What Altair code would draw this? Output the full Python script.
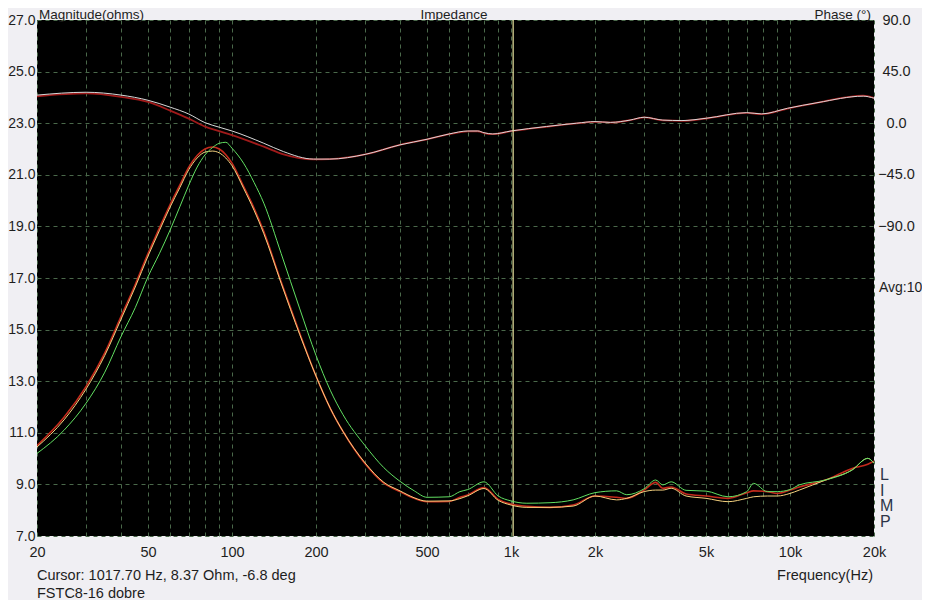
import altair as alt
import pandas as pd

# ---------------- data ----------------
MAG_FREQ = [20, 25, 30, 35, 40, 45, 50, 55, 60, 65,
            70, 75, 80, 85, 90, 95, 100, 110, 120, 130,
            150, 175, 200, 225, 250, 300, 350, 400, 450, 500,
            600, 656, 700, 800, 900, 1000, 1140, 1380, 1670, 2000,
            2390, 2600, 3000, 3300, 3500, 3750, 4240, 5000, 6000, 7000,
            7400, 8300, 9000, 10000, 10800, 13400, 16700, 19000, 20000]

MAG_RED = [10.5, 11.6, 12.8, 14.1, 15.5, 16.75, 17.95, 18.95, 19.85, 20.6,
           21.3, 21.75, 22.0, 22.08, 22.0, 21.78, 21.45, 20.55, 19.7, 18.8,
           16.85, 14.85, 13.2, 11.95, 11.05, 9.8, 9.05, 8.72, 8.46, 8.33,
           8.34, 8.5, 8.59, 8.88, 8.42, 8.24, 8.15, 8.11, 8.2, 8.55,
           8.5, 8.46, 8.78, 9.08, 8.85, 8.9, 8.63, 8.55, 8.46, 8.68,
           8.75, 8.72, 8.65, 8.78, 8.9, 9.17, 9.62, 9.78, 9.9]

MAG_YELLOW = [10.45, 11.5, 12.7, 14.0, 15.4, 16.65, 17.85, 18.85, 19.75, 20.5,
              21.2, 21.65, 21.88, 21.92, 21.85, 21.65, 21.35, 20.48, 19.62, 18.72,
              16.8, 14.8, 13.2, 11.95, 11.05, 9.83, 9.08, 8.75, 8.48, 8.35,
              8.36, 8.45, 8.56, 8.84, 8.38, 8.2, 8.11, 8.11, 8.16, 8.55,
              8.4, 8.46, 8.72, 8.78, 8.78, 8.85, 8.55, 8.46, 8.33, 8.46,
              8.52, 8.55, 8.55, 8.65, 8.78, 9.17, 9.56, 10.01, 9.82]

MAG_GREEN = [10.2, 11.1, 12.15, 13.35, 14.73, 15.85, 17.05, 17.96, 18.86, 19.76,
             20.6, 21.3, 21.77, 22.05, 22.22, 22.26, 22.03, 21.45, 20.7, 19.9,
             17.95, 15.8, 14.0, 12.65, 11.7, 10.5, 9.65, 9.12, 8.75, 8.5,
             8.52, 8.72, 8.8, 9.1, 8.55, 8.36, 8.27, 8.29, 8.4, 8.68,
             8.75, 8.6, 8.83, 9.17, 8.98, 9.1, 8.77, 8.74, 8.52, 8.72,
             9.04, 8.72, 8.72, 8.8, 8.98, 9.17, 9.56, 10.01, 9.82]

PHASE_FREQ = [20, 30, 40, 50, 60, 70, 80, 90, 100, 130,
              153, 196, 224, 300, 400, 500, 600, 700, 760, 800,
              860, 1000, 1340, 1720, 2000, 2270, 2670, 3000, 3500, 4100,
              5000, 7000, 7900, 9800, 12600, 18300, 20000]

PHASE_WHITE = [24.5, 27.0, 24.5, 20.0, 14.0, 8.0, 0.5, -3.5, -6.8, -17.5,
               -24.8, -31.3, -31.3, -27.2, -18.9, -14.0, -9.4, -6.8, -6.8, -8.3,
               -9.4, -6.8, -2.9, 0.0, 1.4, 0.7, 2.7, 5.2, 2.7, 2.3,
               4.3, 9.2, 8.1, 13.0, 18.0, 23.6, 21.8]

PHASE_RED = [23.5, 26.0, 23.0, 18.5, 11.0, 4.0, -3.0, -7.0, -10.4, -20.5,
             -27.2, -31.5, -31.3, -27.2, -18.9, -14.2, -9.6, -7.2, -7.0, -8.6,
             -9.6, -7.0, -3.1, -0.2, 1.2, 0.5, 2.6, 5.0, 2.5, 2.1,
             4.1, 9.0, 7.9, 12.8, 18.0, 24.0, 22.0]

CURSOR_FREQ = [1017.7]

X_GRID_VALUES = [20, 30, 40, 50, 60, 70, 80, 90,
                 100, 200, 300, 400, 500, 600, 700, 800, 900,
                 1000, 2000, 3000, 4000, 5000, 6000, 7000, 8000, 9000,
                 10000, 20000]
X_LABEL_VALUES = [20, 50, 100, 200, 500, 1000, 2000, 5000, 10000, 20000]
X_LABEL_TEXT = ["20", "50", "100", "200", "500", "1k", "2k", "5k", "10k", "20k"]
MAG_TICKS = [7, 9, 11, 13, 15, 17, 19, 21, 23, 25, 27]
PHASE_TICKS = [90, 45, 0, -45, -90]

TITLE_LEFT = "Magnitude(ohms)"
TITLE_CENTER = "Impedance"
TITLE_RIGHT = "Phase (°)"
AVG_TEXT = "Avg:10"
CURSOR_TEXT = "Cursor: 1017.70 Hz, 8.37 Ohm, -6.8 deg"
NAME_TEXT = "FSTC8-16 dobre"
FREQ_TITLE = "Frequency(Hz)"
SIDE_LETTERS = ["L", "I", "M", "P"]

# ---------------- styling ----------------
FONT = "Liberation Sans"
BG = "#f0eff3"
GRID = "#4a684a"
TEXT = "#1e1e1e"
FS = 14.5
W, H = 837, 516


def df(freqs, vals):
    return pd.DataFrame({"f": freqs, "v": vals})


label_expr = "".join(
    f"datum.value == {v} ? '{t}' : " for v, t in zip(X_LABEL_VALUES, X_LABEL_TEXT)
) + "''"

x_axis = alt.Axis(values=X_GRID_VALUES, labelExpr=label_expr, title=None,
                  grid=True, gridColor=GRID, gridDash=[4, 4], gridWidth=1,
                  domain=False, ticks=False, labelPadding=9,
                  labelFlush=False, labelOverlap=False, labelFontSize=FS)
x_scale = alt.Scale(type="log", domain=[20, 20000], nice=False)


def x_enc():
    return alt.X("f:Q", scale=x_scale, axis=x_axis)


mag_y = alt.Y("v:Q", scale=alt.Scale(domain=[7, 27], nice=False, zero=False),
              axis=alt.Axis(values=MAG_TICKS, format=".1f", orient="left", title=None,
                            grid=True, gridColor=GRID, gridDash=[4, 4], gridWidth=1,
                            domain=False, ticks=False, labelPadding=2,
                            labelFlush=False, labelFontSize=14))
phase_y = alt.Y("v:Q", scale=alt.Scale(domain=[-360, 90], nice=False, zero=False),
                axis=alt.Axis(values=PHASE_TICKS, format=".1f", orient="right", title=None,
                              grid=False, domain=False, ticks=False, labelPadding=22,
                              labelAlign="center", labelFlush=False, labelFontSize=FS))


def line(data, color, width, y):
    return alt.Chart(data).mark_line(color=color, strokeWidth=width,
                                     interpolate="monotone", clip=True).encode(
        x=x_enc(), y=y)


phase_layer = alt.layer(
    line(df(PHASE_FREQ, PHASE_RED), "#a01a1a", 1.8, phase_y),
    line(df(PHASE_FREQ, PHASE_WHITE), "#d8d8d8", 1.0, phase_y),
)

mag_layer = alt.layer(
    line(df(MAG_FREQ, MAG_RED), "#c42a1c", 1.6, mag_y),
    line(df(MAG_FREQ, MAG_YELLOW), "#f6d27e", 1.0, mag_y),
    line(df(MAG_FREQ, MAG_GREEN), "#62e062", 1.0, mag_y),
)

cursor = alt.Chart(pd.DataFrame({"f": CURSOR_FREQ})).mark_rule(
    color="#ebe7a2", strokeWidth=1.2).encode(x=x_enc())


def text(txt, x, y, align="left", size=FS, color=TEXT):
    return alt.Chart(pd.DataFrame({"t": [txt]})).mark_text(
        align=align, baseline="alphabetic", font=FONT, fontSize=size, color=color
    ).encode(text="t:N", x=alt.value(x), y=alt.value(y))


texts = [
    text(TITLE_LEFT, 2, -1.5, size=13.5),
    text(TITLE_CENTER, 417, -1.5, align="center", size=13.5),
    text(TITLE_RIGHT, 834, -1.5, align="right", size=13.5),
    text(AVG_TEXT, 842, 271.5, size=14),
    text(CURSOR_TEXT, 0, 559.5),
    text(NAME_TEXT, 0, 577.5),
    text(FREQ_TITLE, 836, 559.5, align="right"),
]
for i, letter in enumerate(SIDE_LETTERS):
    texts.append(text(letter, 843, 460 + i * 15.6, size=16, color="#2c3448"))

chart = alt.layer(phase_layer, cursor, mag_layer, *texts).resolve_scale(
    y="independent"
).properties(
    width=W, height=H,
    background=BG,
    padding={"left": 29, "top": 12, "right": 48, "bottom": 64},
    autosize=alt.AutoSizeParams(type="none"),
).configure_view(
    fill="black", stroke=None
).configure_axis(
    labelFont=FONT, labelFontSize=FS, labelColor=TEXT
)

chart.save("out.html", embed_options={"renderer": "svg", "actions": False})
